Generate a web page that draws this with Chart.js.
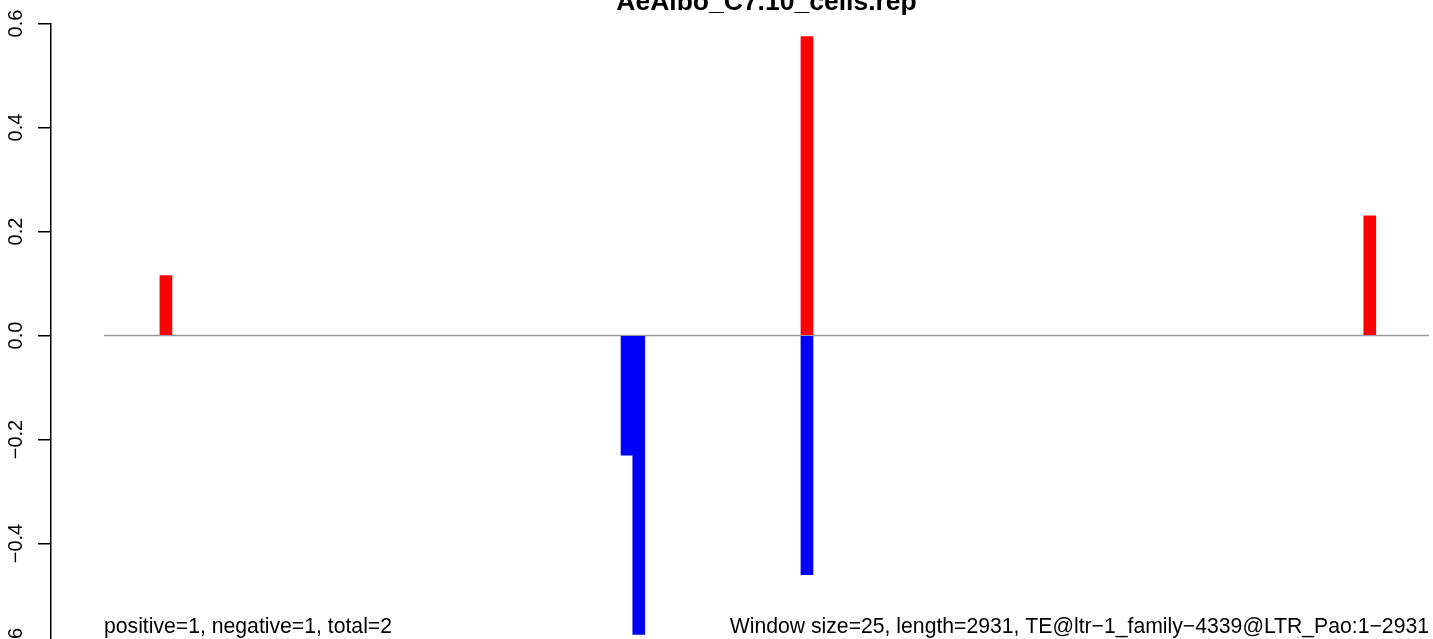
<!DOCTYPE html>
<html>
<head>
<meta charset="utf-8">
<script src="https://cdn.jsdelivr.net/npm/chart.js@4/dist/chart.umd.min.js"></script>
<style>
  html, body { margin: 0; padding: 0; background: #fff; overflow: hidden; }
  #wrap { position: absolute; left: 0; top: 0; }
</style>
</head>
<body>
<div id="wrap"><canvas id="chart" width="1490" height="660"></canvas></div>
<script>
// Window positions (bp) and scores
const posX = [137, 1555, 2800];
const posY = [0.115, 0.575, 0.23];
const negX = [1157, 1183, 1555];
const negY = [-0.23, -0.575, -0.46];

// Sequence extent and the zero line
const seqStart = 0;
const seqEnd = 2931;

// y axis ticks
const yTicks = [-0.6, -0.4, -0.2, 0, 0.2, 0.4, 0.6];
const yTickLabels = ['\u22120.6', '\u22120.4', '\u22120.2', '0.0', '0.2', '0.4', '0.6'];

const titleText = 'AeAlbo_C7.10_cells.rep';
const leftNote = 'positive=1, negative=1, total=2';
const rightNote = 'Window size=25, length=2931, TE@ltr\u22121_family\u22124339@LTR_Pao:1\u22122931';

const FONT = '"Liberation Sans", Arial, Helvetica, sans-serif';

// R-style extras: rotated y labels, title and the two notes
const rTextPlugin = {
    id: 'rText',
    afterDraw(chart) {
        const ctx = chart.ctx;
        const xs = chart.scales.x;
        const ys = chart.scales.y;
        const area = chart.chartArea;
        ctx.save();
        ctx.fillStyle = '#000';

        // y tick labels, reading bottom to top
        ctx.font = '20px ' + FONT;
        ctx.textAlign = 'center';
        ctx.textBaseline = 'alphabetic';
        yTicks.forEach((v, i) => {
            ctx.save();
            ctx.translate(22, ys.getPixelForValue(v));
            ctx.rotate(-Math.PI / 2);
            ctx.fillText(yTickLabels[i], 0, 0);
            ctx.restore();
        });

        // title
        ctx.font = 'bold 26.5px ' + FONT;
        ctx.textAlign = 'center';
        ctx.fillText(titleText, (area.left + area.right) / 2, 10);

        // bottom notes
        ctx.font = '21.2px ' + FONT;
        ctx.textAlign = 'left';
        ctx.fillText(leftNote, xs.getPixelForValue(seqStart), 633);
        ctx.textAlign = 'right';
        ctx.fillText(rightNote, xs.getPixelForValue(seqEnd), 633);
        ctx.restore();
    }
};

new Chart(document.getElementById('chart'), {
    type: 'bar',
    data: {
        datasets: [
            {
                type: 'bar',
                data: posX.map((x, i) => ({ x: x, y: posY[i] })),
                backgroundColor: '#ff0000',
                borderWidth: 0,
                barThickness: 12,
                grouped: false,
                order: 0
            },
            {
                type: 'bar',
                data: negX.map((x, i) => ({ x: x, y: negY[i] })),
                backgroundColor: '#0000ff',
                borderWidth: 0,
                barThickness: 12,
                grouped: false,
                order: 0
            },
            {
                type: 'line',
                data: [{ x: seqStart, y: 0 }, { x: seqEnd, y: 0 }],
                borderColor: '#9a9a9a',
                borderWidth: 1.5,
                pointRadius: 0,
                order: 1
            }
        ]
    },
    options: {
        responsive: false,
        animation: false,
        layout: { padding: { top: 23.5, right: 8, bottom: 12.5, left: 0 } },
        plugins: {
            legend: { display: false },
            tooltip: { enabled: false },
            title: { display: false }
        },
        scales: {
            x: {
                type: 'linear',
                min: -117.24,
                max: 3048.24,
                offset: false,
                display: false
            },
            y: {
                type: 'linear',
                min: -0.6,
                max: 0.6,
                afterBuildTicks: s => { s.ticks = yTicks.map(v => ({ value: v })); },
                afterFit: s => { s.width = 51; },
                grid: {
                    display: true,
                    drawOnChartArea: false,
                    drawTicks: true,
                    tickLength: 13,
                    color: '#000',
                    lineWidth: 1.5
                },
                border: { display: true, color: '#000', width: 1.5 },
                ticks: { display: false }
            }
        }
    },
    plugins: [rTextPlugin]
});
</script>
</body>
</html>
